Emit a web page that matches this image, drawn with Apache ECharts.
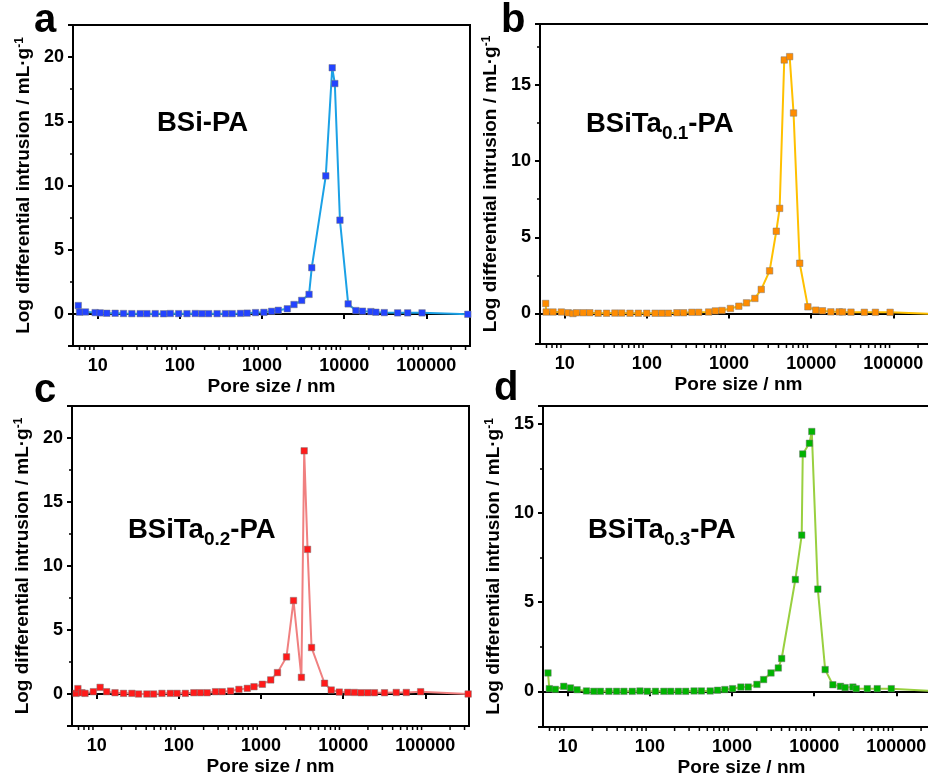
<!DOCTYPE html>
<html>
<head>
<meta charset="utf-8">
<title>Pore size distribution</title>
<script src="https://cdn.jsdelivr.net/npm/echarts@6/dist/echarts.min.js"></script>
<style>
    html, body { margin: 0; padding: 0; background: #fff; }
    #pore_chart { width: 928px; height: 781px; }
</style>
</head>
<body>
<div id="pore_chart"></div>
<script>

// Data
// ------------------------------

// a - BSi-PA
var sizeA = [5.8, 6.0, 7.1, 9.3, 10.7, 12.9, 16.3, 20.6, 26.0, 32.9, 39.7, 50.1, 63.4, 76.4, 96.6,
    122, 154, 186, 224, 284, 359, 433, 547, 659, 833, 1054, 1307, 1577, 2031, 2450,
    3040, 3735, 4030, 5970, 7150, 7690, 8880, 11180, 13870, 16720, 21130, 24320, 30760, 44770, 59300,
    88700, 320000];
var intrA = [0.65, 0.13, 0.15, 0.1, 0.08, 0.05, 0.05, 0.03, 0.02, 0.02, 0.02, 0.02, 0.01, 0.03, 0.02,
    0.02, 0.03, 0.02, 0.02, 0.02, 0.02, 0.02, 0.04, 0.06, 0.1, 0.12, 0.2, 0.28, 0.4, 0.73,
    1.05, 1.52, 3.6, 10.75, 19.17, 17.94, 7.3, 0.78, 0.26, 0.21, 0.18, 0.13, 0.1, 0.08, 0.08,
    0.08, -0.03];

// b - BSiTa0.1-PA
var sizeB = [5.86, 5.95, 7.2, 9.1, 11.0, 12.6, 13.9, 16.8, 20.2, 25.5, 32.3, 40.8, 49.3, 62.3, 78.8,
    99.6, 126, 152, 183, 232, 280, 353, 427, 565, 682, 822, 1040, 1315, 1632, 2064,
    2467, 3119, 3760, 4131, 4700, 5470, 6100, 7250, 9120, 11370, 13740, 17350, 21930, 24100, 30490,
    44380, 60500, 91400, 320000];
var intrB = [0.66, 0.1, 0.1, 0.1, 0.05, 0.0, 0.05, 0.05, 0.05, 0.02, 0.02, 0.03, 0.03, 0.02, 0.02,
    0.02, 0.02, 0.02, 0.02, 0.05, 0.05, 0.08, 0.08, 0.1, 0.17, 0.2, 0.33, 0.48, 0.7, 0.99,
    1.58, 2.8, 5.4, 6.9, 16.64, 16.86, 13.16, 3.3, 0.44, 0.22, 0.18, 0.11, 0.11, 0.1, 0.09,
    0.08, 0.08, 0.08, -0.03];

// c - BSiTa0.2-PA
var sizeC = [5.6, 5.9, 6.6, 7.2, 9.1, 11.0, 13.2, 16.7, 21.2, 26.8, 32.3, 40.8, 49.2, 62.2, 78.7,
    95, 120, 152, 183, 221, 279, 337, 426, 538, 681, 821, 1038, 1312, 1585, 2042,
    2485, 3100, 3353, 3683, 4121, 5930, 7150, 8970, 11350, 13690, 16510, 19910, 24030, 31860, 44220,
    58640, 87700, 332000];
var intrC = [0.05, 0.42, 0.1, 0.05, 0.18, 0.52, 0.18, 0.1, 0.05, 0.05, 0.0, 0.0, 0.0, 0.05, 0.05,
    0.05, 0.05, 0.1, 0.1, 0.1, 0.18, 0.18, 0.23, 0.36, 0.44, 0.57, 0.76, 1.1, 1.67, 2.9,
    7.3, 1.3, 19.0, 11.3, 3.63, 0.84, 0.31, 0.15, 0.13, 0.12, 0.1, 0.1, 0.1, 0.1, 0.12,
    0.12, 0.18, 0.0];

// d - BSiTa0.3-PA
var sizeD = [5.75, 5.97, 7.07, 8.94, 10.8, 13.0, 16.9, 20.8, 25.0, 31.7, 39.3, 48.3, 61.0, 75.7, 93,
    117, 148, 179, 222, 273, 345, 424, 542, 666, 818, 1015, 1282, 1575, 2010, 2425,
    2980, 3660, 4020, 5900, 7050, 7260, 8750, 9350, 11070, 13600, 16860, 20900, 23800, 29600, 32500,
    44300, 58600, 86800, 330000];
var intrD = [1.03, 0.15, 0.11, 0.28, 0.19, 0.09, 0.02, 0, 0, 0, 0, 0, 0, 0.02, 0,
    0, 0, 0, 0, 0, 0.02, 0.02, 0.02, 0.06, 0.1, 0.15, 0.24, 0.24, 0.39, 0.66,
    1.03, 1.31, 1.84, 6.27, 8.76, 13.31, 13.91, 14.57, 5.73, 1.22, 0.37, 0.28, 0.21, 0.24, 0.15,
    0.15, 0.15, 0.15, 0.0];

// Axis ranges and minor ticks of the log axis
var xRange = [5, 340000];
var xMinorTicks = [6, 7, 8, 9, 20, 30, 40, 50, 60, 70, 80, 90,
    200, 300, 400, 500, 600, 700, 800, 900,
    2000, 3000, 4000, 5000, 6000, 7000, 8000, 9000,
    20000, 30000, 40000, 50000, 60000, 70000, 80000, 90000,
    200000, 300000];
var yRangeA = [-2.5, 22.5];
var yRangeB = [-2, 19];
var yRangeC = [-2.5, 22.5];
var yRangeD = [-2, 16];


// Setup module
// ------------------------------

var EchartsPoreSize = function() {

    var _poreSizeCharts = function() {
        if (typeof echarts == 'undefined') {
            console.warn('Warning - echarts.min.js is not loaded.');
            return;
        }

        var element = document.getElementById('pore_chart');
        if (!element) return;

        var pore_chart = echarts.init(element);
        var font = 'Liberation Sans';

        // One entry per panel
        var panels = [
            {x: sizeA, y: intrA, yr: yRangeA, split: 5, left: 73, top: 25, height: 321,
                marker: '#2343ff', line: '#1ba1e6'},
            {x: sizeB, y: intrB, yr: yRangeB, split: 5, left: 540, top: 24, height: 320,
                marker: '#ff8c00', line: '#ffc000'},
            {x: sizeC, y: intrC, yr: yRangeC, split: 5, left: 72, top: 406, height: 320,
                marker: '#ff1a1a', line: '#f08080'},
            {x: sizeD, y: intrD, yr: yRangeD, split: 4, left: 543, top: 406, height: 321,
                marker: '#00b400', line: '#99d040'}
        ];

        var grids = [], xAxes = [], yAxes = [], series = [];

        panels.forEach(function(p, i) {
            grids.push({
                left: p.left, top: p.top, width: 397, height: p.height,
                outerBoundsMode: 'none', containLabel: false,
                show: true, borderColor: '#000', borderWidth: 2,
                backgroundColor: 'transparent'
            });

            xAxes.push({
                type: 'log', logBase: 10, gridIndex: i,
                min: xRange[0], max: xRange[1],
                name: 'Pore size / nm',
                nameLocation: 'middle', nameGap: 31,
                nameTextStyle: {fontFamily: font, fontSize: 19, fontWeight: 'bold', color: '#000'},
                axisLine: {lineStyle: {color: '#000', width: 2}},
                axisTick: {length: 5, lineStyle: {color: '#000', width: 2}},
                axisLabel: {
                    margin: 11, fontFamily: font, fontSize: 18, fontWeight: 'bold', color: '#000',
                    hideOverlap: false,
                    formatter: function(v) {
                        var l = Math.log(v) / Math.LN10;
                        return Math.abs(l - Math.round(l)) < 1e-6 ? String(Math.round(v)) : '';
                    }
                },
                splitLine: {show: false}
            });

            yAxes.push({
                type: 'value', gridIndex: i,
                min: p.yr[0], max: p.yr[1], splitNumber: p.split,
                name: 'Log differential intrusion / mL\u00b7g{sup|-1}',
                nameLocation: 'middle', nameGap: 40,
                nameTextStyle: {
                    fontFamily: font, fontSize: 19, fontWeight: 'bold', color: '#000',
                    rich: {sup: {fontFamily: font, fontSize: 12, fontWeight: 'bold', color: '#000', verticalAlign: 'top'}}
                },
                axisLine: {show: true, lineStyle: {color: '#000', width: 2}},
                axisTick: {show: true, length: 5, lineStyle: {color: '#000', width: 2}},
                minorTick: {show: true, splitNumber: 2, length: 3, lineStyle: {color: '#000', width: 1.5}},
                axisLabel: {
                    margin: 9, fontFamily: font, fontSize: 18, fontWeight: 'bold', color: '#000',
                    formatter: function(v) {
                        return Math.abs(v % 5) < 1e-9 ? String(v) : '';
                    }
                },
                splitLine: {show: false}
            });

            // Curve with square markers
            series.push({
                type: 'line', xAxisIndex: i, yAxisIndex: i,
                data: p.x.map(function(s, k) { return [s, p.y[k]]; }),
                symbol: 'rect', symbolSize: 6.5,
                lineStyle: {color: p.line, width: 2},
                itemStyle: {color: p.marker, borderColor: 'rgba(120,120,120,0.6)', borderWidth: 0.8},
                emphasis: {disabled: true},
                z: 3
            });

            // Minor ticks of the log axis (2..9 of each decade)
            series.push({
                type: 'custom', xAxisIndex: i, yAxisIndex: i,
                data: xMinorTicks.map(function(v) { return [v, p.yr[0]]; }),
                clip: false, silent: true, z: 4,
                renderItem: function(params, api) {
                    var pt = api.coord([api.value(0), api.value(1)]);
                    return {
                        type: 'line',
                        shape: {x1: pt[0], y1: pt[1], x2: pt[0], y2: pt[1] + 4},
                        style: {stroke: '#000', lineWidth: 1.5}
                    };
                }
            });
        });

        // Panel letters and sample names
        var letter = function(txt, x, y) {
            return {type: 'text', x: x, y: y, style: {
                text: txt, fill: '#000', verticalAlign: 'bottom',
                font: 'bold 40px "Liberation Sans"'
            }};
        };
        var sampleRich = {
            m: {fontFamily: font, fontSize: 27.5, fontWeight: 'bold', lineHeight: 38, verticalAlign: 'middle', fill: '#000'},
            s: {fontFamily: font, fontSize: 19, fontWeight: 'bold', lineHeight: 22, verticalAlign: 'bottom', fill: '#000'}
        };
        var sample = function(txt, x, y) {
            return {type: 'text', x: x, y: y, style: {
                text: txt, rich: sampleRich, fill: '#000', verticalAlign: 'top'
            }};
        };

        pore_chart.setOption({
            animation: false,
            textStyle: {fontFamily: font},
            grid: grids,
            xAxis: xAxes,
            yAxis: yAxes,
            series: series,
            graphic: [
                letter('a', 34, 41),
                letter('b', 501, 41),
                letter('c', 34, 411),
                letter('d', 494, 409),
                sample('{m|BSi-PA}', 157, 104),
                sample('{m|BSiTa}{s|0.1}{m|-PA}', 586, 105),
                sample('{m|BSiTa}{s|0.2}{m|-PA}', 128, 511),
                sample('{m|BSiTa}{s|0.3}{m|-PA}', 588, 511)
            ]
        });

        window.addEventListener('resize', function() {
            pore_chart.resize();
        });
    };

    return {
        init: function() {
            _poreSizeCharts();
        }
    }
}();


// Initialize module
// ------------------------------

document.addEventListener('DOMContentLoaded', function() {
    EchartsPoreSize.init();
});
</script>
</body>
</html>
